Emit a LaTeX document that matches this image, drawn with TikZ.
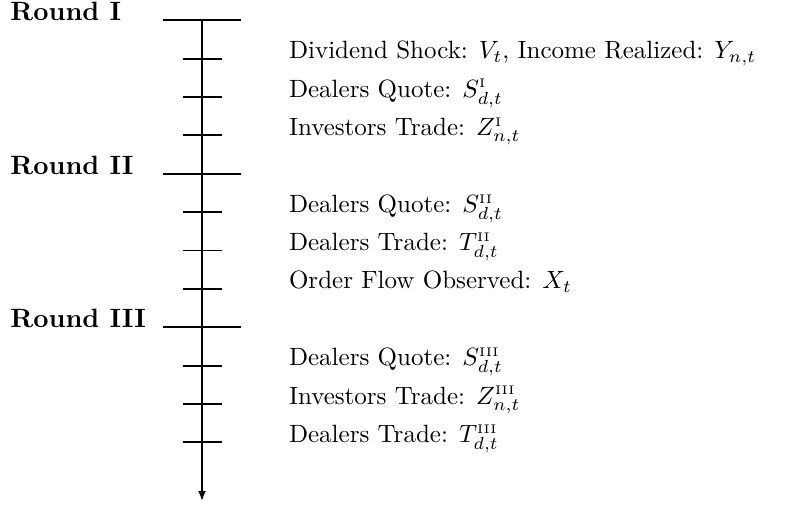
\documentclass[tikz,border=0pt]{standalone}
\usetikzlibrary{arrows.meta}
\begin{document}
\begin{tikzpicture}[x=0.4pt,y=-0.4pt,
  axisline/.style={line width=0.75pt,-{Latex[length=4pt,width=3.2pt]}},
  roundtick/.style={line width=0.75pt},
  eventtick/.style={line width=0.75pt},
  roundlabel/.style={anchor=base west,inner sep=0pt,font=\fontsize{10.6}{12}\selectfont\bfseries},
  eventlabel/.style={anchor=base west,inner sep=0pt}]
\useasboundingbox (0,0) rectangle (791,506);
\def\dy{38.37}
\coordinate (top) at (202,20.3);
\coordinate (bot) at (202,501);
\draw[axisline] (top) -- (bot);
% round ticks
\foreach \k/\n in {0/r1,4/r2,8/r3}{
  \coordinate (\n l) at (163,20.3+\k*\dy);
  \coordinate (\n r) at (241,20.3+\k*\dy);
  \draw[roundtick] (\n l) -- (\n r);
}
% event ticks
\foreach \k in {1,2,3,5,6,7,9,10,11}{
  \coordinate (e\k l) at (183,20.3+\k*\dy);
  \coordinate (e\k r) at (222,20.3+\k*\dy);
  \draw[eventtick] (e\k l) -- (e\k r);
}
\node[roundlabel] (R1) at (10,21) {Round I};
\node[roundlabel] (R2) at (10,21+4*\dy) {Round II};
\node[roundlabel] (R3) at (10,21+8*\dy) {Round III};
\node[eventlabel] (L1) at (288.5,20.3+1*\dy) {Dividend Shock: $V_t$, Income Realized: $Y_{n,t}$};
\node[eventlabel] (L2) at (288.5,20.3+2*\dy) {Dealers Quote: $S^{\scriptscriptstyle\mathrm{I}}_{d,t}$};
\node[eventlabel] (L3) at (288.5,20.3+3*\dy) {Investors Trade: $Z^{\scriptscriptstyle\mathrm{I}}_{n,t}$};
\node[eventlabel] (L5) at (288.5,20.3+5*\dy) {Dealers Quote: $S^{\scriptscriptstyle\mathrm{II}}_{d,t}$};
\node[eventlabel] (L6) at (288.5,20.3+6*\dy) {Dealers Trade: $T^{\scriptscriptstyle\mathrm{II}}_{d,t}$};
\node[eventlabel] (L7) at (288.5,20.3+7*\dy) {Order Flow Observed: $X_t$};
\node[eventlabel] (L9) at (288.5,20.3+9*\dy) {Dealers Quote: $S^{\scriptscriptstyle\mathrm{III}}_{d,t}$};
\node[eventlabel] (L10) at (288.5,20.3+10*\dy) {Investors Trade: $Z^{\scriptscriptstyle\mathrm{III}}_{n,t}$};
\node[eventlabel] (L11) at (288.5,20.3+11*\dy) {Dealers Trade: $T^{\scriptscriptstyle\mathrm{III}}_{d,t}$};
\end{tikzpicture}
\end{document}
